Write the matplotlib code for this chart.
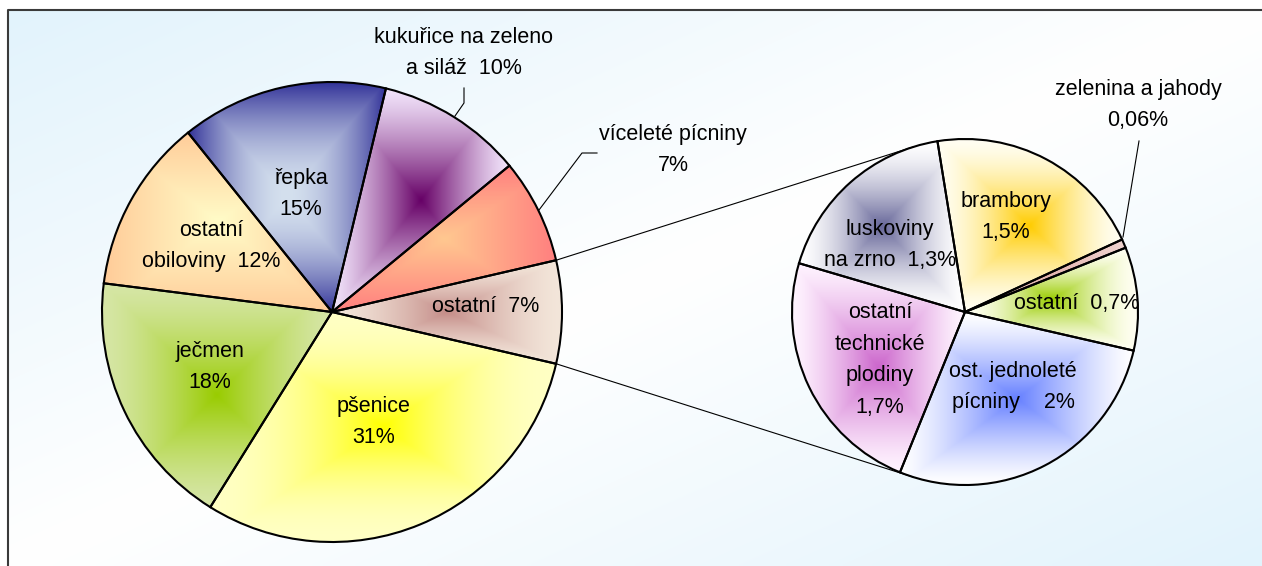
import numpy as np
import matplotlib
matplotlib.use("Agg")
import matplotlib.pyplot as plt
from matplotlib.colors import to_rgb

plt.rcParams['font.family'] = ['Liberation Sans', 'DejaVu Sans']

W, H = 1262, 566

# hlavni kolac - proti smeru hodin, zacina odbocenou vyseci "ostatni"
main_values = [7.26, 7.4, 10.3, 14.6, 12.3, 18.2, 30.4]
main_labels = ["ostatní  7%", "víceleté pícniny\n7%", "kukuřice na zeleno\na siláž  10%",
               "řepka\n15%", "ostatní\nobiloviny  12%", "ječmen\n18%", "pšenice\n31%"]
main_inner = ["#c48c88", "#ffc890", "#660066", "#d4e0ee", "#fffcc8", "#99cc00", "#ffff00"]
main_outer = ["#f3e6da", "#ff7f7f", "#f2e4fb", "#333399", "#ffcc99", "#d6e6a6", "#ffffc4"]
# >1 = syta barva soustredena (u stredu nebo u okraje)
main_gamma = [1.5, 1.0, 1.25, 1.8, 1.0, 1.4, 1.9]
main_dark_edge = [False, False, False, True, False, False, False]

# vedlejsi kolac - rozpad "ostatni"
sub_values = [0.7, 0.06, 1.5, 1.3, 1.7, 2.0]
sub_labels = ["ostatní  0,7%", "zelenina a jahody\n0,06%", "brambory\n1,5%", "luskoviny\nna zrno  1,3%",
              "ostatní\ntechnické\nplodiny\n1,7%", "ost. jednoleté\npícniny    2%"]
sub_inner = ["#99cc00", "#e4b4ae", "#ffcc00", "#666699", "#cc66cc", "#6680ff"]
sub_outer = ["#fffff2", "#f0d4d0", "#fffef2", "#ffffff", "#fff4ff", "#ffffff"]
sub_gamma = [1.6, 1.0, 1.5, 1.5, 1.3, 1.3]

# rozlozeni (pixely obrazku, y dolu)
main_c, main_r = (332, 312), 230
sub_c, sub_r = (965, 312), 173
main_lab_pos = [(486, 306), (673, 150), (464, 53), (301, 194), (211, 246), (210, 367), (374, 422)]
sub_lab_pos = [(1077, 304), (1138, 105), (1006, 217), (890, 245), (880, 360), (1013, 387)]
leaders = [
    [(464, 88), (464, 103), (455, 116)],
    [(597, 153), (582, 153), (539, 210)],
    [(1139, 141), (1123, 237)],
]


def fy(y):
    return H - y


def gradient_fill(ax, wedge, c_in, c_out, gamma=1.0, dark_edge=False):
    bb = wedge.get_path().get_extents()
    nx = max(int(bb.width) + 2, 4)
    ny = max(int(bb.height) + 2, 4)
    X, Y = np.meshgrid(np.linspace(-1, 1, nx), np.linspace(-1, 1, ny))
    t = np.maximum(np.abs(X), np.abs(Y))
    if dark_edge:
        t = t ** gamma
    else:
        t = 1 - (1 - t) ** gamma
    t = t[..., None]
    img = np.array(to_rgb(c_in)) * (1 - t) + np.array(to_rgb(c_out)) * t
    im = ax.imshow(img, extent=(bb.x0, bb.x1, bb.y0, bb.y1), origin="lower",
                   interpolation="bilinear", zorder=1)
    im.set_clip_path(wedge)


fig = plt.figure(figsize=(W / 100, H / 100), dpi=100)
ax = fig.add_axes([0, 0, 1, 1])

# pozadi s prechodem
fx0, fy0 = 8, 10
X, Y = np.meshgrid(np.linspace(0, 1, 300), np.linspace(0, 1, 150))
u = np.abs(X + Y - 1.0)[..., None]
blue = np.array([226, 243, 252]) / 255
bg = np.ones(3) * (1 - u) + blue * u
ax.imshow(bg, extent=(fx0, W, 0, fy(fy0)), origin="upper", interpolation="bilinear",
          zorder=0, aspect="auto")
ax.plot([fx0, fx0, W], [0, fy(fy0), fy(fy0)], color="#3a3a3a", lw=1.5, zorder=5)

edge = dict(edgecolor="black", linewidth=1.5, facecolor="none")

start = -main_values[0] / sum(main_values) * 180
wedges, _ = ax.pie(main_values, startangle=start, center=(main_c[0], fy(main_c[1])),
                   radius=main_r, counterclock=True, wedgeprops=edge)
for w, ci, co, g, de in zip(wedges, main_inner, main_outer, main_gamma, main_dark_edge):
    gradient_fill(ax, w, ci, co, g, de)
    w.set_zorder(3)

sub_wedges, _ = ax.pie(sub_values, startangle=-12.9, center=(sub_c[0], fy(sub_c[1])),
                       radius=sub_r, counterclock=True, wedgeprops=edge)
for w, ci, co, g in zip(sub_wedges, sub_inner, sub_outer, sub_gamma):
    gradient_fill(ax, w, ci, co, g)
    w.set_zorder(3)

# spojovaci cary - tecny k vedlejsimu kolaci
half = np.deg2rad(main_values[0] / sum(main_values) * 180)
C = np.array([sub_c[0], fy(sub_c[1])], float)
for sgn in (1, -1):
    P = np.array([main_c[0] + main_r * np.cos(half), fy(main_c[1]) + sgn * main_r * np.sin(half)])
    d = P - C
    phi = np.arctan2(d[1], d[0])
    alpha = np.arccos(sub_r / np.hypot(*d))
    a = phi - alpha if sgn > 0 else phi + alpha
    T = C + sub_r * np.array([np.cos(a), np.sin(a)])
    ax.plot([P[0], T[0]], [P[1], T[1]], color="black", lw=0.8, zorder=4)

for pts in leaders:
    ax.plot([p[0] for p in pts], [fy(p[1]) for p in pts], color="black", lw=0.8, zorder=4)

for lab, (x, y) in zip(main_labels + sub_labels, main_lab_pos + sub_lab_pos):
    ax.text(x, fy(y), lab, ha="center", va="center", fontsize=15.5, linespacing=1.65,
            color="black", zorder=6)

ax.set_xlim(0, W)
ax.set_ylim(0, H)
ax.set_aspect("auto")
ax.axis("off")
fig.savefig("out.png", dpi=100, facecolor="white")
